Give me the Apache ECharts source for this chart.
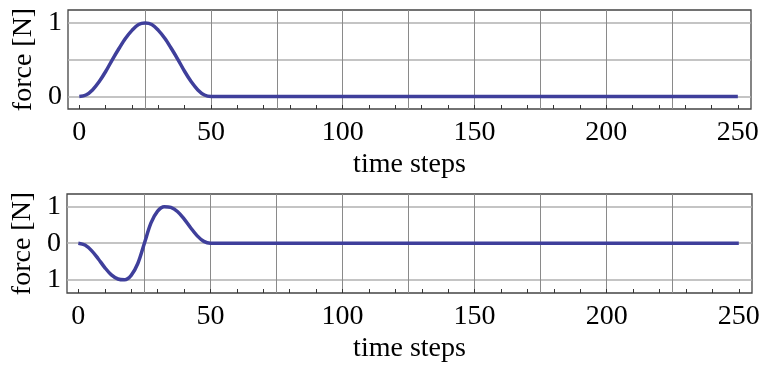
<!DOCTYPE html>
<html>
<head>
<meta charset="utf-8">
<script src="https://cdn.jsdelivr.net/npm/echarts@6/dist/echarts.min.js"></script>
<style>
    html, body { margin: 0; padding: 0; background: #fff; }
    #chart { width: 760px; height: 365px; }
</style>
</head>
<body>
<div id="chart"></div>
<script>
var steps = [0, 2.5, 5, 7.5, 10, 12.5, 15, 17.5, 20, 22.5, 25, 27.5, 30, 32.5, 35, 37.5, 40, 42.5, 45, 47.5, 50, 55, 250];
// upper panel: single bump
var forceTop = [0, 0.02, 0.09, 0.2, 0.34, 0.5, 0.65, 0.79, 0.9, 0.98, 1, 0.98, 0.9, 0.79, 0.65, 0.5, 0.34, 0.2, 0.09, 0.02, 0, 0, 0];
// lower panel: down then up
var forceBottom = [0, -0.05, -0.2, -0.42, -0.66, -0.86, -0.97, -0.99, -0.87, -0.55, 0, 0.55, 0.87, 0.99, 0.97, 0.86, 0.66, 0.42, 0.2, 0.05, 0, 0, 0];

var xLabels = [0, 50, 100, 150, 200, 250];
var xMinorTicks = [0, 10, 20, 30, 40, 50, 60, 70, 80, 90, 100, 110, 120, 130, 140, 150, 160, 170, 180, 190, 200, 210, 220, 230, 240, 250];
var xGridLines = [25, 50, 75, 100, 125, 150, 175, 200, 225];
var yTopLabels = [0, 1];
var yTopGrid = [0, 0.5, 1];
var yBottomLabels = [-1, 0, 1];

var font = 'Liberation Serif';
var lineColor = '#3f3f9b';

function pairs(ys) {
    var out = [];
    for (var i = 0; i < steps.length; i++) {
        out.push([steps[i], ys[i]]);
    }
    return out;
}

function mainX(gridIndex) {
    return {
        type: 'value', gridIndex: gridIndex, min: -4.3, max: 255,
        name: 'time steps', nameLocation: 'middle', nameGap: 42, nameMoveOverlap: false,
        nameTextStyle: { fontFamily: font, fontSize: 28, color: '#000' },
        axisLine: { show: false, onZero: false },
        axisTick: { show: true, inside: true, length: 4, customValues: xMinorTicks,
            lineStyle: { color: '#333', width: 1 } },
        axisLabel: { customValues: xLabels, margin: 10, fontFamily: font, fontSize: 28, color: '#000' },
        splitLine: { show: false }
    };
}

function gridX(gridIndex) {
    return {
        type: 'value', gridIndex: gridIndex, min: -4.3, max: 255,
        axisLine: { show: false, onZero: false },
        axisTick: { show: false, customValues: xGridLines },
        axisLabel: { show: false },
        splitLine: { show: true, lineStyle: { color: '#8a8a8a', width: 1 } }
    };
}

function yAxis(gridIndex, min, max, ticks, labels) {
    return {
        type: 'value', gridIndex: gridIndex, min: min, max: max,
        name: 'force [N]', nameLocation: 'middle', nameGap: 30, nameRotate: 90, nameMoveOverlap: false,
        nameTextStyle: { fontFamily: font, fontSize: 28, color: '#000' },
        axisLine: { show: false, onZero: false },
        axisTick: { show: false, customValues: ticks },
        axisLabel: { customValues: labels, margin: 6, fontFamily: font, fontSize: 28, color: '#000',
            formatter: function (v) { return String(Math.abs(v)); } },
        splitLine: { show: true, lineStyle: { color: '#b0b0b0', width: 1.5 } }
    };
}

var myChart = echarts.init(document.getElementById('chart'));
var option = {
    animation: false,
    backgroundColor: '#fff',
    grid: [
        { left: 68, top: 10, width: 683, height: 99, show: true, borderColor: '#444', borderWidth: 1.3,
          backgroundColor: 'transparent', outerBoundsMode: 'none', containLabel: false },
        { left: 67, top: 194, width: 685, height: 99, show: true, borderColor: '#444', borderWidth: 1.3,
          backgroundColor: 'transparent', outerBoundsMode: 'none', containLabel: false }
    ],
    xAxis: [mainX(0), gridX(0), mainX(1), gridX(1)],
    yAxis: [
        yAxis(0, -0.17, 1.177, yTopGrid, yTopLabels),
        yAxis(1, -1.35, 1.335, yBottomLabels, yBottomLabels)
    ],
    series: [
        {
            type: 'line', xAxisIndex: 0, yAxisIndex: 0, data: pairs(forceTop),
            smooth: 0.33, showSymbol: false, lineStyle: { color: lineColor, width: 3.5 }
        },
        {
            type: 'line', xAxisIndex: 2, yAxisIndex: 1, data: pairs(forceBottom),
            smooth: 0.33, showSymbol: false, lineStyle: { color: lineColor, width: 3.5 }
        }
    ]
};
myChart.setOption(option);
</script>
</body>
</html>
